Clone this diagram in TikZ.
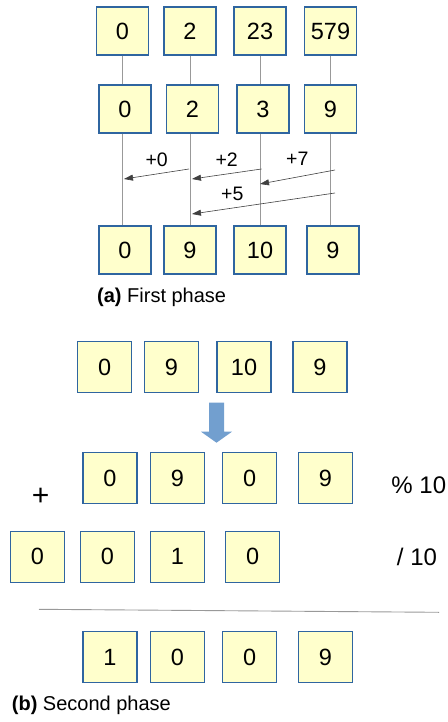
\documentclass[tikz,border=0pt]{standalone}
\usepackage{fontspec}
\setmainfont{Liberation Sans}
\usetikzlibrary{arrows.meta}
\definecolor{boxfill}{HTML}{FFFFCC}
\definecolor{boxline}{HTML}{2F65A0}
\definecolor{arrfill}{HTML}{729FCF}
\begin{document}
\begin{tikzpicture}[x=1pt,y=-1pt,
  cell/.style={draw=boxline, fill=boxfill, line width=1.2pt, minimum width=52pt, minimum height=48pt, inner sep=0pt, font=\fontsize{23.5}{26}\selectfont},
  cellb/.style={cell, minimum width=54pt, minimum height=51pt},
  link/.style={draw=black!40, line width=0.8pt},
  shiftarrow/.style={draw=black!75, line width=0.6pt, -{Triangle[length=9pt,width=6pt]}},
  lab/.style={font=\fontsize{19.5}{21}\selectfont, inner sep=0pt},
  sidelab/.style={font=\fontsize{24}{26}\selectfont, inner sep=0pt},
  caption/.style={font=\fontsize{20}{22}\selectfont, inner sep=0pt, anchor=west}]
\path[use as bounding box] (0,0) rectangle (447,722);
% ---------- phase (a)
\node[cell] (t1) at (122.5,31) {0};
\node[cell] (t2) at (190,31) {2};
\node[cell] (t3) at (260,31) {23};
\node[cell] (t4) at (330.5,31) {579};
\node[cell] (m1) at (125,109) {0};
\node[cell] (m2) at (192.5,109) {2};
\node[cell] (m3) at (263,109) {3};
\node[cell] (m4) at (330.5,109) {9};
\node[cell] (b1) at (125,250) {0};
\node[cell] (b2) at (190,250) {9};
\node[cell] (b3) at (260,250) {10};
\node[cell] (b4) at (333,250) {9};
\foreach \i in {1,...,4}{
  \draw[link] (t\i.south) -- (t\i.south |- m\i.north);
  \draw[link] (t\i.south |- m\i.south) -- (t\i.south |- b\i.north);
}
\coordinate (s0) at (189,169);   \coordinate (e0) at (124,179);
\coordinate (s2) at (261.5,169); \coordinate (e2) at (192,179);
\coordinate (s7) at (335,170);   \coordinate (e7) at (260,184);
\coordinate (s5) at (335,193);   \coordinate (e5) at (192,214);
\draw[shiftarrow] (s0) -- (e0);
\draw[shiftarrow] (s2) -- (e2);
\draw[shiftarrow] (s7) -- (e7);
\draw[shiftarrow] (s5) -- (e5);
\node[lab] (l0) at (156.7,160) {+0};
\node[lab] (l2) at (226.7,160) {+2};
\node[lab] (l7) at (297.3,159) {+7};
\node[lab] (l5) at (232.3,194) {+5};
\node[caption] (capa) at (97,297) {\textbf{(a)} First phase};
% ---------- phase (b)
\node[cellb] (p1) at (104.7,367) {0};
\node[cellb] (p2) at (171.5,367) {9};
\node[cellb] (p3) at (244,367) {10};
\node[cellb] (p4) at (320,367) {9};
\fill[arrfill] (209,402.7) -- (224,402.7) -- (224,431.7) -- (232,431.7) -- (216.5,442.7) -- (201,431.7) -- (209,431.7) -- cycle;
\node[cellb] (q1) at (110,478) {0};
\node[cellb] (q2) at (177.3,478) {9};
\node[cellb] (q3) at (249.7,478) {0};
\node[cellb] (q4) at (325.3,478) {9};
\node[font=\fontsize{30}{32}\selectfont, inner sep=0pt] (plus) at (40.7,497) {+};
\node[sidelab] (mod) at (418.8,485) {\% 10};
\node[cellb] (c1) at (37.5,556.7) {0};
\node[cellb] (c2) at (107.3,556.7) {0};
\node[cellb] (c3) at (177.3,556.7) {1};
\node[cellb] (c4) at (252.7,556.7) {0};
\node[sidelab] (div) at (417,556.7) {/ 10};
\coordinate (rl) at (39,609.3);
\coordinate (rr) at (439,612.3);
\draw[draw=black!40, line width=0.9pt] (rl) -- (rr);
\node[cellb] (r1) at (110,657) {1};
\node[cellb] (r2) at (177.3,657) {0};
\node[cellb] (r3) at (249.7,657) {0};
\node[cellb] (r4) at (325.3,657) {9};
\node[caption] (capb) at (11.7,705) {\textbf{(b)} Second phase};
\end{tikzpicture}
\end{document}
